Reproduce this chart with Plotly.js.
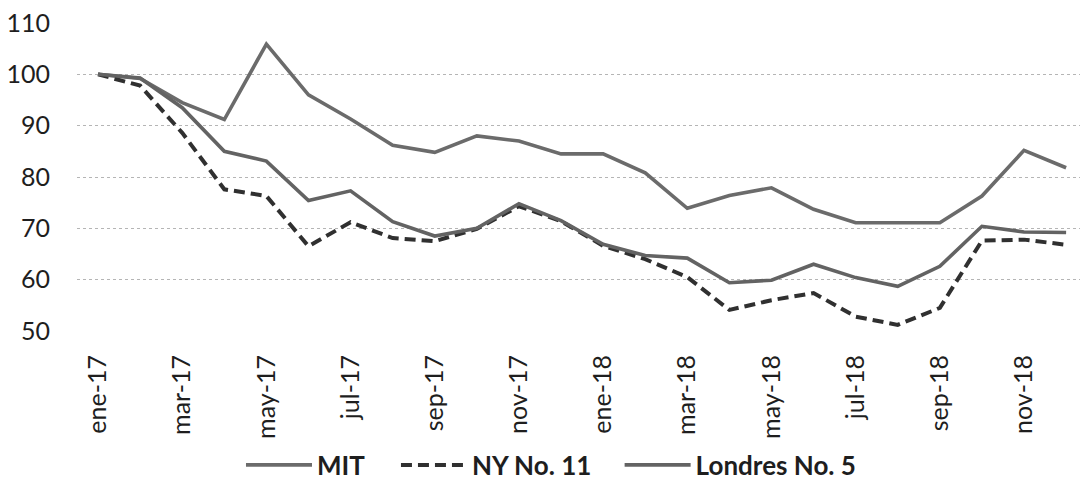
<!DOCTYPE html>
<html>
<head>
<meta charset="utf-8">
<script src="https://cdn.plot.ly/plotly-3.0.1.min.js"></script>
<style>
html,body{margin:0;padding:0;background:#fff;}
#chart{width:1080px;height:494px;}
</style>
</head>
<body>
<div id="chart"></div>
<script>
const months = ["ene-17","feb-17","mar-17","abr-17","may-17","jun-17","jul-17","ago-17","sep-17","oct-17","nov-17","dic-17",
                "ene-18","feb-18","mar-18","abr-18","may-18","jun-18","jul-18","ago-18","sep-18","oct-18","nov-18","dic-18"];
const mit     = [100, 99.2, 94.5, 91.2, 105.9, 96.0, 91.3, 86.2, 84.8, 88.0, 87.0, 84.5,
                 84.5, 80.8, 73.9, 76.4, 77.9, 73.7, 71.1, 71.1, 71.1, 76.3, 85.2, 81.8];
const ny11    = [100, 97.8, 88.6, 77.6, 76.3, 66.5, 71.2, 68.1, 67.5, 69.9, 74.3, 71.4,
                 66.6, 64.0, 60.5, 54.1, 56.0, 57.4, 52.8, 51.2, 54.5, 67.6, 67.8, 66.8];
const londres = [100, 99.3, 93.5, 85.0, 83.1, 75.4, 77.3, 71.3, 68.5, 70.0, 74.8, 71.5,
                 66.9, 64.7, 64.2, 59.4, 59.9, 63.0, 60.4, 58.7, 62.6, 70.4, 69.3, 69.2];
const tickLabels = months.filter((m, i) => i % 2 === 0);

const traces = [
  {x: months, y: mit, name: "MIT", type: "scatter", mode: "lines", legend: "legend",
   line: {color: "#6b6b6b", width: 3.6}},
  {x: months, y: ny11, name: "NY No. 11", type: "scatter", mode: "lines", legend: "legend2",
   line: {color: "#303030", width: 4, dash: "11px,6px"}},
  {x: months, y: londres, name: "Londres No. 5", type: "scatter", mode: "lines", legend: "legend3",
   line: {color: "#636363", width: 3.6}}
];

function leg(x) {
  return {
    orientation: "h", x: x, xanchor: "left", y: -0.435, yanchor: "middle",
    font: {family: "Lato, sans-serif", size: 26, color: "#1e1e1e", weight: "bold"},
    itemwidth: 66, bgcolor: "rgba(0,0,0,0)"
  };
}

const layout = {
  width: 1080, height: 494,
  margin: {l: 77, r: 0, t: 23, b: 163},
  paper_bgcolor: "#ffffff", plot_bgcolor: "#ffffff",
  font: {family: "Lato, 'Open Sans', sans-serif", color: "#1e1e1e", size: 25},
  showlegend: true,
  legend: leg(0.1635),
  legend2: leg(0.318),
  legend3: leg(0.541),
  xaxis: {
    type: "category", range: [-0.5, 23.33],
    tickmode: "array", tickvals: tickLabels, ticktext: tickLabels,
    tickangle: -90, showgrid: false, zeroline: false, showline: false,
    ticks: "outside", ticklen: 13, tickcolor: "rgba(0,0,0,0)",
    tickfont: {size: 25}
  },
  yaxis: {
    range: [50, 110], tickvals: [50, 60, 70, 80, 90, 100, 110],
    showgrid: true, gridcolor: "#b5b5b5", griddash: "dot", gridwidth: 1,
    zeroline: false, showline: false,
    ticks: "outside", ticklen: 21, tickcolor: "rgba(0,0,0,0)",
    tickfont: {size: 25}
  }
};

Plotly.newPlot("chart", traces, layout, {displayModeBar: false, staticPlot: true});
</script>
</body>
</html>
